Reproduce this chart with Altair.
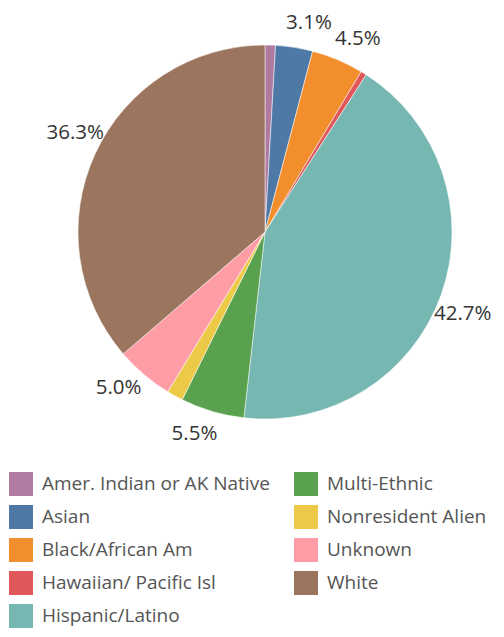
import altair as alt
import pandas as pd

categories = ["Amer. Indian or AK Native", "Asian", "Black/African Am",
              "Hawaiian/ Pacific Isl", "Hispanic/Latino", "Multi-Ethnic",
              "Nonresident Alien", "Unknown", "White"]
values = [0.9, 3.2, 4.5, 0.5, 42.7, 5.5, 1.4, 5.0, 36.3]
labels = ["", "3.1%", "4.5%", "", "42.7%", "5.5%", "", "5.0%", "36.3%"]
colors = ["#B07AA1", "#4E79A7", "#F28E2B", "#E15759", "#76B7B2",
          "#59A14F", "#EDC948", "#FF9DA7", "#9C755F"]

df = pd.DataFrame({"cat": categories, "val": values, "label": labels,
                   "ord": list(range(len(categories)))})

FONT = "Open Sans"
cx, cy, R = 257, 224, 187

base = alt.Chart(df).encode(
    theta=alt.Theta("val:Q", stack=True),
    order=alt.Order("ord:Q"),
    x=alt.value(cx), y=alt.value(cy),
)

arcs = base.mark_arc(radius=R, stroke="white", strokeWidth=0.5).encode(
    color=alt.Color("cat:N", scale=alt.Scale(domain=categories, range=colors),
                    legend=alt.Legend(title=None, orient="none", legendX=1, legendY=464,
                                      columns=2, symbolType="square", symbolSize=576,
                                      symbolStrokeWidth=0, labelFontSize=19, labelFont=FONT,
                                      labelColor="#555555", labelOffset=9, rowPadding=9,
                                      columnPadding=24, padding=0, labelLimit=400))
)

texts = base.mark_text(radius=214, thetaOffset=0.05, fontSize=20.5, font=FONT,
                       color="#333333", baseline="middle", align="center").encode(
    text="label:N"
)

chart = (arcs + texts).properties(
    width=488, height=621, padding=0,
    autosize=alt.AutoSizeParams(type="none")
).configure_view(stroke=None)

chart.save("out.html", embed_options={"renderer": "svg", "actions": False})
